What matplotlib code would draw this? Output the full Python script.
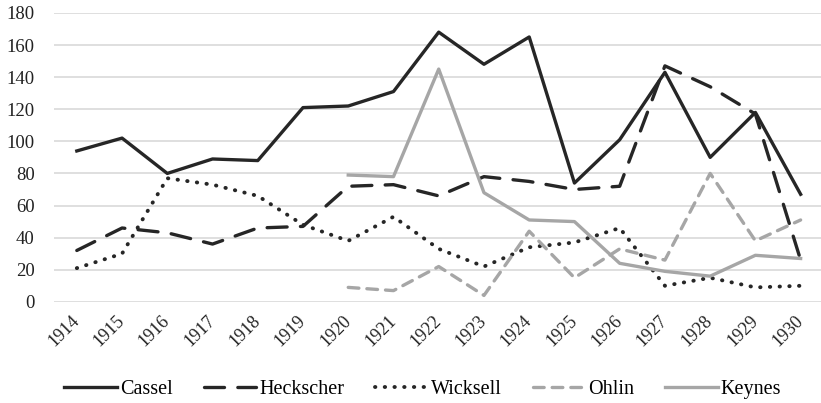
import matplotlib
matplotlib.use("Agg")
import matplotlib.pyplot as plt
import numpy as np

years = [str(y) for y in range(1914, 1931)]

cassel = [94, 102, 80, 89, 88, 121, 122, 131, 168, 148, 165, 74, 101, 143, 90, 118, 67]
heckscher = [32, 46, 43, 36, 46, 47, 72, 73, 66, 78, 75, 70, 72, 147, 134, 117, 26]
wicksell = [21, 30, 77, 73, 66, 48, 38, 53, 33, 22, 34, 37, 46, 10, 15, 9, 10]
# Ohlin and Keynes start in 1920
ohlin = [np.nan] * 6 + [9, 7, 22, 4, 44, 15, 33, 26, 80, 38, 51]
keynes = [np.nan] * 6 + [79, 78, 145, 68, 51, 50, 24, 19, 16, 29, 27]

dark = '#262626'
grey = '#a6a6a6'

plt.rcParams['font.family'] = ['Liberation Serif', 'DejaVu Serif']

fig = plt.figure(figsize = (8.21, 4.03), dpi = 100)
ax = fig.add_axes([0.066, 0.251, 0.934, 0.717])

x = np.arange(len(years))
lw = 2.4
ax.plot(x, cassel, color = dark, lw = lw, label = 'Cassel')
ax.plot(x, heckscher, color = dark, lw = lw, linestyle = (0, (6, 4)), dash_capstyle = 'round', label = 'Heckscher')
ax.plot(x, wicksell, color = dark, lw = 2.8, linestyle = (0, (0.1, 2.4)), dash_capstyle = 'round', label = 'Wicksell')
ax.plot(x, ohlin, color = grey, lw = lw, linestyle = (0, (3.2, 2.4)), dash_capstyle = 'round', label = 'Ohlin')
ax.plot(x, keynes, color = grey, lw = lw, label = 'Keynes')

ax.set_xlim(-0.5, 16.45)
ax.set_ylim(0, 180)
ax.set_yticks(range(0, 181, 20))
ax.set_xticks(x)
ax.set_xticklabels(years, rotation = 45, ha = 'right', va = 'center', rotation_mode = 'anchor')
ax.yaxis.grid(True, color = '#d9d9d9', lw = 1.2)
ax.set_axisbelow(True)
for s in ax.spines.values():
    s.set_visible(False)
ax.tick_params(length = 0, labelsize = 13, colors = '#222222')
ax.tick_params(axis = 'y', labelsize = 13.5, pad = 14)
ax.tick_params(axis = 'x', pad = 12)

fig.legend(loc = 'lower center', bbox_to_anchor = (0.515, -0.035), ncol = 5, frameon = False,
           fontsize = 14.5, handlelength = 2.6, columnspacing = 1.55, handletextpad = 0.15)

fig.savefig('out.png', dpi = 100)
